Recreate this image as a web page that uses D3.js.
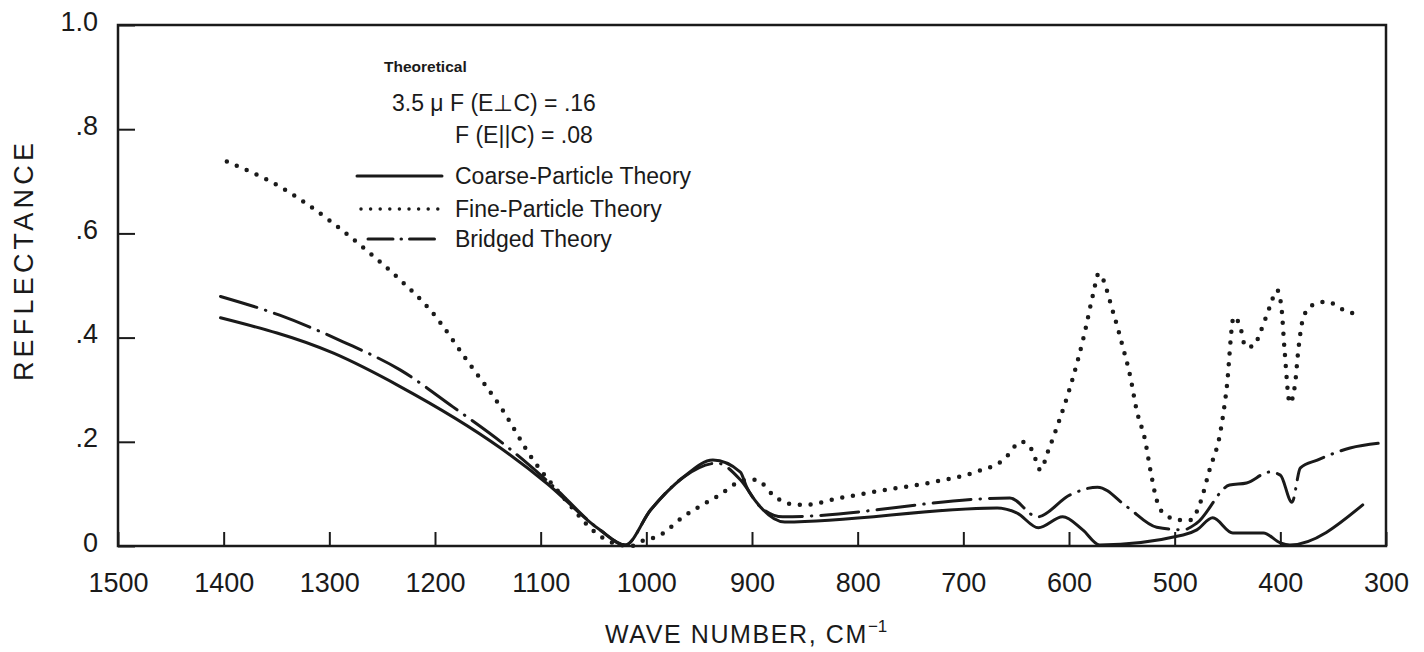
<!DOCTYPE html>
<html>
<head>
<meta charset="utf-8">
<script src="https://cdn.jsdelivr.net/npm/d3@7/dist/d3.min.js"></script>
<style>
  html, body { margin: 0; padding: 0; background: #fff; }
  svg { display: block; }
  text { fill: #1a1a1a; }
</style>
</head>
<body>
<svg id="chart" width="1424" height="652"></svg>
<script>
// ---- data (wave number cm^-1, reflectance) ----
const xTicks = [1500, 1400, 1300, 1200, 1100, 1000, 900, 800, 700, 600, 500, 400, 300];
const yTicks = [0, 0.2, 0.4, 0.6, 0.8, 1.0];
const yTickLabels = ["0", ".2", ".4", ".6", ".8", "1.0"];

const coarseWave = [1403, 1296, 1233, 1138, 1094, 1044, 1020, 996, 965, 937, 911, 905, 892, 869, 668, 649, 629, 606, 587, 571, 492, 479, 464, 445, 416, 400, 391, 322];
const coarseRefl = [0.438, 0.370, 0.306, 0.188, 0.120, 0.031, 0.002, 0.069, 0.132, 0.165, 0.142, 0.113, 0.075, 0.046, 0.073, 0.063, 0.035, 0.056, 0.031, 0.002, 0.021, 0.031, 0.054, 0.025, 0.025, 0.006, 0.002, 0.079];

const fineWave = [1397, 1347, 1296, 1265, 1233, 1202, 1170, 1138, 1107, 1075, 1050, 1034, 1014, 1006, 987, 965, 933, 905, 896, 880, 867, 851, 817, 776, 728, 687, 662, 645, 635, 627, 620, 609, 596, 586, 577, 572, 558, 550, 542, 536, 528, 523, 517, 509, 495, 485, 476, 467, 457, 451, 444, 438, 433, 426, 418, 410, 403, 399, 396, 391, 386, 383, 378, 369, 356, 340, 332];
const fineRefl = [0.738, 0.690, 0.619, 0.568, 0.511, 0.447, 0.357, 0.267, 0.165, 0.085, 0.029, 0.008, 0.000, 0.008, 0.021, 0.056, 0.095, 0.127, 0.127, 0.098, 0.082, 0.079, 0.092, 0.107, 0.123, 0.143, 0.165, 0.200, 0.184, 0.146, 0.181, 0.242, 0.325, 0.402, 0.485, 0.523, 0.447, 0.389, 0.325, 0.261, 0.203, 0.146, 0.088, 0.060, 0.050, 0.050, 0.082, 0.146, 0.216, 0.299, 0.440, 0.421, 0.383, 0.383, 0.415, 0.459, 0.491, 0.459, 0.376, 0.274, 0.312, 0.376, 0.440, 0.463, 0.469, 0.453, 0.447];

const bridgedWave = [1403, 1347, 1287, 1233, 1183, 1132, 1091, 1044, 1020, 996, 965, 933, 911, 892, 871, 656, 630, 599, 573, 545, 517, 492, 479, 448, 432, 410, 400, 389, 381, 365, 334, 303];
const bridgedRefl = [0.479, 0.443, 0.392, 0.338, 0.267, 0.191, 0.120, 0.031, 0.002, 0.069, 0.132, 0.159, 0.127, 0.075, 0.056, 0.092, 0.056, 0.098, 0.113, 0.075, 0.036, 0.031, 0.044, 0.117, 0.121, 0.142, 0.136, 0.084, 0.150, 0.165, 0.188, 0.198];

const seriesNames = ["Coarse-Particle Theory", "Fine-Particle Theory", "Bridged Theory"];

// ---- layout ----
const svg = d3.select("#chart");
const M = { left: 118, right: 1386, top: 25, bottom: 546 };
const x = d3.scaleLinear().domain([1500, 300]).range([M.left, M.right]);
const y = d3.scaleLinear().domain([0, 1]).range([M.bottom, M.top]);
const FONT = "'Liberation Sans', Arial, Helvetica, sans-serif";

// frame
svg.append("rect")
  .attr("x", M.left).attr("y", M.top)
  .attr("width", M.right - M.left).attr("height", M.bottom - M.top)
  .attr("fill", "none").attr("stroke", "#1a1a1a").attr("stroke-width", 2.5);

// x axis
const xAxis = svg.append("g")
  .attr("transform", `translate(0,${M.bottom})`)
  .call(d3.axisBottom(x).tickValues(xTicks).tickSize(-14).tickFormat(d3.format("d")));
xAxis.select(".domain").remove();
xAxis.selectAll(".tick line").attr("stroke", "#1a1a1a").attr("stroke-width", 2);
xAxis.selectAll(".tick text")
  .attr("y", 46).attr("dy", 0)
  .attr("font-family", FONT).attr("font-size", 27).attr("fill", "#1a1a1a");

// y axis
const yAxis = svg.append("g")
  .attr("transform", `translate(${M.left},0)`)
  .call(d3.axisLeft(y).tickValues(yTicks).tickSize(-17)
    .tickFormat((d, i) => yTickLabels[i]));
yAxis.select(".domain").remove();
yAxis.selectAll(".tick line").attr("stroke", "#1a1a1a").attr("stroke-width", 2);
yAxis.selectAll(".tick text")
  .attr("x", -20).attr("y", 5).attr("dy", 0)
  .attr("font-family", FONT).attr("font-size", 27).attr("fill", "#1a1a1a");

// axis titles
const xt = svg.append("text")
  .attr("x", 605).attr("y", 643)
  .attr("text-anchor", "start")
  .attr("font-family", FONT).attr("font-size", 25).attr("letter-spacing", 1.6);
xt.append("tspan").text("WAVE NUMBER, CM");
xt.append("tspan").attr("dy", -11).attr("font-size", 17).attr("letter-spacing", 0).text("−1");

svg.append("text")
  .attr("transform", "translate(33,260) rotate(-90)")
  .attr("text-anchor", "middle")
  .attr("font-family", FONT).attr("font-size", 27).attr("letter-spacing", 4.2)
  .text("REFLECTANCE");

// curves
const line = d3.line().x(d => x(d[0])).y(d => y(d[1])).curve(d3.curveMonotoneX);
const zip = (a, b) => a.map((v, i) => [v, b[i]]);

const styles = [
  { sw: 3, dash: null },
  { sw: 4.5, dash: "0 10.8" },
  { sw: 3, dash: "38 9 0.5 9" }
];
const data = [zip(coarseWave, coarseRefl), zip(fineWave, fineRefl), zip(bridgedWave, bridgedRefl)];

data.forEach((d, i) => {
  svg.append("path")
    .datum(d)
    .attr("d", line)
    .attr("fill", "none")
    .attr("stroke", "#1a1a1a")
    .attr("stroke-width", styles[i].sw)
    .attr("stroke-linecap", "round")
    .attr("stroke-linejoin", "round")
    .attr("stroke-dasharray", styles[i].dash);
});

// legend / annotation
svg.append("text").attr("x", 384).attr("y", 67).attr("dy", "0.35em")
  .attr("font-family", FONT).attr("font-size", 15.5).attr("font-weight", "bold")
  .text("Theoretical");
svg.append("text").attr("x", 392).attr("y", 103).attr("dy", "0.35em")
  .attr("font-family", FONT).attr("font-size", 23)
  .text("3.5 μ F (E⊥C) = .16");
svg.append("text").attr("x", 455).attr("y", 135).attr("dy", "0.35em")
  .attr("font-family", FONT).attr("font-size", 23)
  .text("F (E||C) = .08");

const legY = [176, 209, 239];
const legX0 = [357, 361, 368];
const legDash = [null, "0 9.6", "25 8 0.5 8"];
seriesNames.forEach((name, i) => {
  svg.append("line")
    .attr("x1", legX0[i]).attr("x2", 442)
    .attr("y1", legY[i]).attr("y2", legY[i])
    .attr("stroke", "#1a1a1a")
    .attr("stroke-width", i === 1 ? 3.5 : 3)
    .attr("stroke-linecap", "round")
    .attr("stroke-dasharray", legDash[i]);
  svg.append("text").attr("x", 455).attr("y", legY[i]).attr("dy", "0.35em")
    .attr("font-family", FONT).attr("font-size", 23)
    .text(name);
});
</script>
</body>
</html>
